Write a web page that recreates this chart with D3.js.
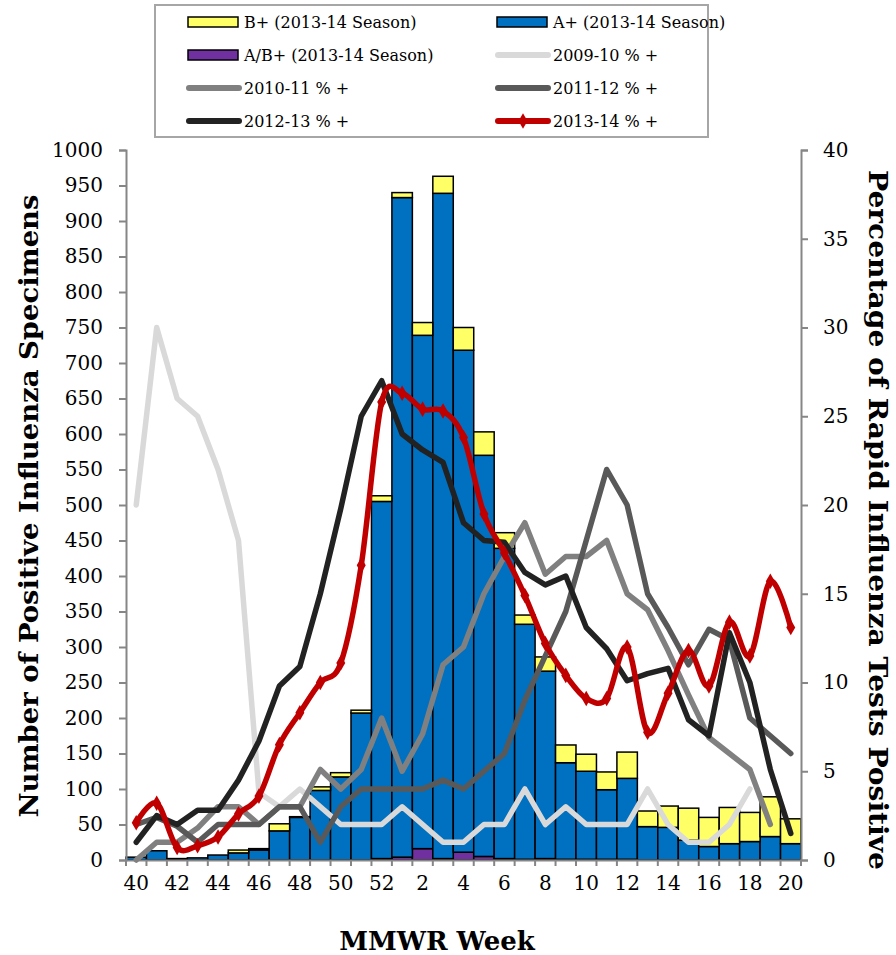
<!DOCTYPE html>
<html><head><meta charset="utf-8">
<script src="https://cdn.jsdelivr.net/npm/d3@7"></script>
<style>body{margin:0;background:#fff}svg{display:block}text{font-family:"DejaVu Serif",serif;fill:#000}</style>
</head><body><svg id="c" width="896" height="955"></svg>
<script>
const weeks = ["40","41","42","43","44","45","46","47","48","49","50","51","52","1","2","3","4","5","6","7","8","9","10","11","12","13","14","15","16","17","18","19","20"];
const xTickLabels = ["40","42","44","46","48","50","52","2","4","6","8","10","12","14","16","18","20"];
const leftTicks = d3.range(0, 1001, 50);
const rightTicks = d3.range(0, 41, 5);
// Stacked bar counts (2013-14 season)
const abPos = [0,0,0,0,0,0,0,0,0,0,0,0,2,4,16,2,11,5,2,1,2,1,1,1,1,0,0,0,0,0,0,0,0];
const aPos  = [4,13,2,3,7,10,14,41,60,98,117,207,503,929,723,937,707,565,437,331,264,136,124,98,114,47,46,28,19,23,26,33,23];
const bPos  = [0,0,0,0,0,4,2,10,1,5,6,4,8,7,18,24,32,33,22,13,20,25,24,25,37,22,30,45,41,51,41,56,35];
// Percentage of rapid tests positive
const pct0910 = [20,30,26,25,22,18,3.8,3,4,3,2,2,2,3,2,1,1,2,2,4,2,3,2,2,2,4,2,1,1,2,4];
const pct1011 = [0,1,1,1.8,3,3,2,3,3,5.1,4,5.1,8,5,7.1,11,12,15,17.1,19,16.1,17.1,17.1,18,15,14.1,11.8,9.3,6.9,6,5.1,2];
const pct1112 = [2,2.4,1.9,1,2,2,2,3,3,1,3,4,4,4,4,4.5,4,5,6,9,11.5,14,18,22,20,15,13.1,11,13,12.4,8,7,6];
const pct1213 = [1,2.5,2,2.8,2.8,4.5,6.7,9.8,10.9,15,19.8,25,27,24,23.1,22.4,19,18,17.9,16.2,15.5,16,13.1,11.9,10.1,10.5,10.8,7.9,7,12.8,10,5.1,1.5];
const pct1314 = [2.1,3.2,0.7,0.8,1.3,2.6,3.6,6.5,8.3,10,11.1,16.6,25.8,26.3,25.4,25.3,23.8,19.5,17.3,14.9,12.2,10.4,9.1,9.1,12,7.2,9.4,11.8,9.8,13.4,11.5,15.7,13.1];

const svg = d3.select("#c");
const L = 126, R = 801, T = 150, B = 860;
const x = d3.scaleBand().domain(weeks).range([L, R]).padding(0);
const yL = d3.scaleLinear().domain([0, 1000]).range([B, T]);
const yR = d3.scaleLinear().domain([0, 40]).range([B, T]);
const axisCol = "#868686";

// Bars
const stackData = weeks.map((w, i) => ({week: w, ab: abPos[i], a: aPos[i], b: bPos[i]}));
const stack = d3.stack().keys(["ab", "a", "b"])(stackData);
const barCol = {ab: "#7030a0", a: "#0070c0", b: "#ffff66"};
svg.append("g").selectAll("g").data(stack).join("g")
  .attr("fill", d => barCol[d.key])
  .selectAll("rect").data(d => d.filter(s => s[1] - s[0] > 0)).join("rect")
  .attr("x", d => x(d.data.week))
  .attr("width", x.bandwidth())
  .attr("y", d => yL(d[1]))
  .attr("height", d => yL(d[0]) - yL(d[1]))
  .attr("stroke", "#000").attr("stroke-width", 1.5);

// Axes
const gL = svg.append("g").attr("transform", `translate(${L},0)`)
  .call(d3.axisLeft(yL).tickValues(leftTicks).tickFormat(d3.format("d")).tickSize(7).tickPadding(16));
const gR = svg.append("g").attr("transform", `translate(${R},0)`)
  .call(d3.axisRight(yR).tickValues(rightTicks).tickFormat(d3.format("d")).tickSize(7).tickPadding(15));
[gL, gR].forEach(g => {
  g.select(".domain").attr("stroke", axisCol).attr("stroke-width", 2);
  g.selectAll(".tick line").attr("stroke", axisCol).attr("stroke-width", 2);
  g.selectAll(".tick text").attr("font-size", 20).attr("font-family", "DejaVu Serif");
});
const gX = svg.append("g").attr("transform", `translate(0,${B})`)
  .call(d3.axisBottom(x).tickValues(xTickLabels).tickSize(0).tickPadding(16));
gX.select(".domain").attr("stroke", axisCol).attr("stroke-width", 2);
gX.selectAll(".tick text").attr("font-size", 20).attr("font-family", "DejaVu Serif");
svg.append("g").selectAll("line").data(weeks.concat(["end"])).join("line")
  .attr("x1", (d, i) => i < weeks.length ? x(d) : R)
  .attr("x2", (d, i) => i < weeks.length ? x(d) : R)
  .attr("y1", B).attr("y2", B + 6)
  .attr("stroke", axisCol).attr("stroke-width", 2);

// Lines
const series = [
  {name: "2009-10 % +", data: pct0910, color: "#d9d9d9"},
  {name: "2010-11 % +", data: pct1011, color: "#808080"},
  {name: "2011-12 % +", data: pct1112, color: "#595959"},
  {name: "2012-13 % +", data: pct1213, color: "#222222"},
  {name: "2013-14 % +", data: pct1314, color: "#c00000", smooth: true, marker: true}
];
const cx = i => x(weeks[i]) + x.bandwidth() / 2;
series.forEach(s => {
  const line = d3.line().x((d, i) => cx(i)).y(d => yR(d))
    .curve(s.smooth ? d3.curveCatmullRom.alpha(0) : d3.curveLinear);
  svg.append("path").datum(s.data).attr("d", line)
    .attr("fill", "none").attr("stroke", s.color).attr("stroke-width", 5.5)
    .attr("stroke-linejoin", "round").attr("stroke-linecap", "round");
  if (s.marker) {
    svg.append("g").selectAll("path").data(s.data).join("path")
      .attr("transform", (d, i) => `translate(${cx(i)},${yR(d)})`)
      .attr("d", d3.symbol(d3.symbolDiamond, 70)())
      .attr("fill", s.color);
  }
});

// Axis titles
svg.append("text").attr("transform", `translate(38,${(T + B) / 2 + 1}) rotate(-90)`)
  .attr("text-anchor", "middle").attr("font-size", 26).attr("font-weight", "bold")
  .attr("textLength", 623).attr("lengthAdjust", "spacingAndGlyphs")
  .text("Number of Positive Influenza Specimens");
svg.append("text").attr("transform", `translate(869,520) rotate(90)`)
  .attr("text-anchor", "middle").attr("font-size", 26).attr("font-weight", "bold")
  .attr("textLength", 700).attr("lengthAdjust", "spacingAndGlyphs")
  .text("Percentage of Rapid Influenza Tests Positive");
svg.append("text").attr("x", 437).attr("y", 950)
  .attr("text-anchor", "middle").attr("font-size", 26).attr("font-weight", "bold")
  .text("MMWR Week");

// Legend
const lg = svg.append("g");
lg.append("rect").attr("x", 155).attr("y", 5).attr("width", 553).attr("height", 132)
  .attr("fill", "#fff").attr("stroke", "#a6a6a6").attr("stroke-width", 2);
const legendItems = [
  {label: "B+ (2013-14 Season)", type: "bar", color: barCol.b},
  {label: "A+ (2013-14 Season)", type: "bar", color: barCol.a},
  {label: "A/B+ (2013-14 Season)", type: "bar", color: barCol.ab},
  {label: series[0].name, type: "line", color: series[0].color},
  {label: series[1].name, type: "line", color: series[1].color},
  {label: series[2].name, type: "line", color: series[2].color},
  {label: series[3].name, type: "line", color: series[3].color},
  {label: series[4].name, type: "line", color: series[4].color, marker: true}
];
const colX = [188, 497], rowY = [22, 55, 88, 121];
legendItems.forEach((it, k) => {
  const gx = colX[k % 2], gy = rowY[Math.floor(k / 2)];
  const g = lg.append("g");
  if (it.type === "bar") {
    g.append("rect").attr("x", gx).attr("y", gy - 5).attr("width", 50).attr("height", 10)
      .attr("fill", it.color).attr("stroke", "#000").attr("stroke-width", 1.5);
  } else {
    g.append("line").attr("x1", gx + 1).attr("x2", gx + 51).attr("y1", gy).attr("y2", gy)
      .attr("stroke", it.color).attr("stroke-width", 6).attr("stroke-linecap", "round");
    if (it.marker) g.append("path").attr("transform", `translate(${gx + 26},${gy})`)
      .attr("d", d3.symbol(d3.symbolDiamond, 70)()).attr("fill", it.color);
  }
  g.append("text").attr("x", gx + 56).attr("y", gy + 6).attr("font-size", 16).text(it.label);
});
</script></body></html>
